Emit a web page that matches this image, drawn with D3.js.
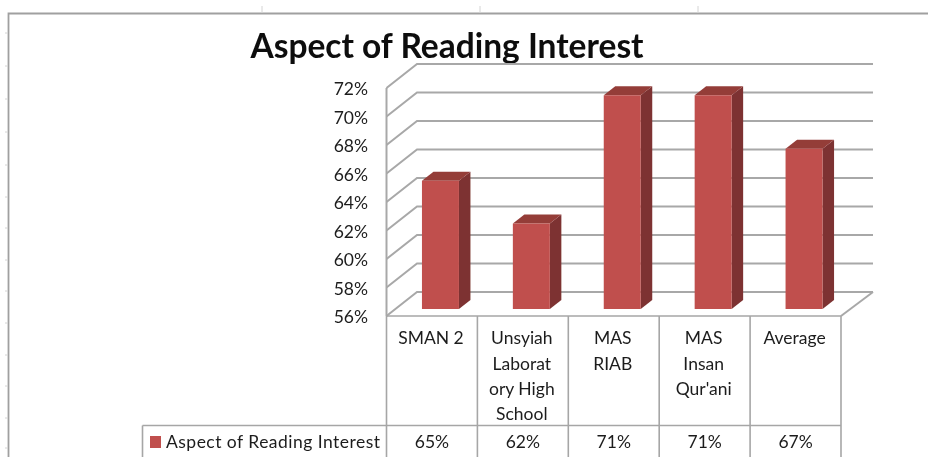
<!DOCTYPE html>
<html>
<head>
<meta charset="utf-8">
<style>html,body{margin:0;padding:0;background:#fff}svg{display:block}text{font-family:Lato,"Noto Sans",sans-serif;fill:#1c1c1c}</style>
<script src="https://cdn.jsdelivr.net/npm/d3@7"></script>
</head>
<body>
<script>
const categories = ["SMAN 2", "Unsyiah Laboratory High School", "MAS RIAB", "MAS Insan Qur'ani", "Average"];
const categoryLines = [["SMAN 2"], ["Unsyiah", "Laborat", "ory High", "School"], ["MAS", "RIAB"], ["MAS", "Insan", "Qur'ani"], ["Average"]];
const seriesName = "Aspect of Reading Interest";
const values = [0.65, 0.62, 0.71, 0.71, 0.6725];
const yTicks = [0.56, 0.58, 0.60, 0.62, 0.64, 0.66, 0.68, 0.70, 0.72];
const title = "Aspect of Reading Interest";

const W = 928, H = 457;
const gridColor = "#a8a8a8", tableColor = "#a6a6a6";
const svg = d3.select("body").append("svg").attr("width", W).attr("height", H);
svg.append("defs").append("filter").attr("id", "soft")
  .attr("x", "-2%").attr("y", "-2%").attr("width", "104%").attr("height", "104%")
  .append("feGaussianBlur").attr("stdDeviation", 0.45);
const root = svg.append("g").attr("filter", "url(#soft)");

const y = d3.scaleLinear().domain([0.56, 0.72]).range([316, 88]);
const x = d3.scaleBand().domain(categories).range([386.5, 841]).paddingInner(0.593).paddingOuter(0.2965);
const cell = d3.scaleBand().domain(categories).range([386.5, 841]);
const fmt = d3.format(".0%");

// sheet frame and ruler marks
const frame = root.append("g").attr("stroke", "#a0a0a0").attr("fill", "none");
frame.append("path").attr("d", "M8.5,457V13.5H928").attr("stroke-width", 1.8);
[262, 480, 698].forEach(v => frame.append("line").attr("x1", v).attr("x2", v).attr("y1", 6).attr("y2", 13).attr("stroke", "#d4d4d4"));
[33, 66, 99, 132, 165, 197, 228, 260, 291, 323, 355, 386, 418, 448].forEach(v => frame.append("line").attr("x1", 5).attr("x2", 8).attr("y1", v).attr("y2", v).attr("stroke", "#d4d4d4"));

root.append("text").attr("x", 447).attr("y", 58).attr("text-anchor", "middle")
  .attr("font-size", 33.5).attr("font-weight", 700).style("fill", "#0b0b0b").text(title);

// 3D walls
const depthX = 30.5, depthY = 24, backEnd = 873;
const grid = root.append("g").attr("fill", "none").attr("stroke", gridColor).attr("stroke-width", 2);
grid.selectAll("path").data(yTicks).join("path")
  .attr("d", t => `M386.5,${y(t)}L${386.5 + depthX},${y(t) - depthY}H${backEnd}`);
grid.append("path").attr("d", `M841,316L${backEnd},${316 - depthY}`);
grid.append("line").attr("x1", 386.5).attr("x2", 386.5).attr("y1", y(0.72)).attr("y2", 316);

root.append("g").selectAll("text").data(yTicks).join("text")
  .attr("x", 368).attr("y", t => y(t) + 1).attr("dy", "0.36em").attr("text-anchor", "end")
  .attr("font-size", 17.5).text(fmt);

// bars
const barDx = 8.5, barDy = 7, sideDx = 11.5, sideDy = 9;
const bars = root.append("g").selectAll("g").data(categories.map((c, i) => ({c, v: values[i]}))).join("g");
bars.append("path").attr("fill", "#7d3230").attr("d", d => {
  const r = x(d.c) + x.bandwidth() + barDx, t = y(d.v) - barDy, b = y(0.56) - barDy;
  return `M${r},${t}l${sideDx},${-sideDy}V${b - sideDy}l${-sideDx},${sideDy}Z`;
});
bars.append("path").attr("fill", "#943c39").attr("d", d => {
  const l = x(d.c) + barDx, t = y(d.v) - barDy;
  return `M${l},${t}l${sideDx},${-sideDy}h${x.bandwidth()}l${-sideDx},${sideDy}Z`;
});
bars.append("rect").attr("fill", "#c0504d")
  .attr("x", d => x(d.c) + barDx).attr("y", d => y(d.v) - barDy)
  .attr("width", x.bandwidth()).attr("height", d => y(0.56) - y(d.v));

// data table
const rowTop = 316, rowMid = 425.5;
const table = root.append("g").attr("stroke", tableColor).attr("stroke-width", 1.6).attr("fill", "none");
table.append("line").attr("x1", 386.5).attr("x2", 841).attr("y1", rowTop).attr("y2", rowTop);
table.append("line").attr("x1", 142.5).attr("x2", 841).attr("y1", rowMid).attr("y2", rowMid);
table.append("line").attr("x1", 142.5).attr("x2", 142.5).attr("y1", rowMid).attr("y2", H);
[...categories.map(c => cell(c)), 841].forEach(v =>
  table.append("line").attr("x1", v).attr("x2", v).attr("y1", rowTop).attr("y2", H));

const head = root.append("g").selectAll("text").data(categories.map((c, i) => ({c, lines: categoryLines[i]}))).join("text")
  .attr("text-anchor", "middle").attr("font-size", 17.5);
head.selectAll("tspan").data(d => d.lines.map((l, i) => ({c: d.c, l, i}))).join("tspan")
  .attr("x", d => cell(d.c) + cell.bandwidth() / 2 - 1)
  .attr("y", d => 338 + d.i * 25.3).attr("dy", "0.36em").text(d => d.l);

root.append("g").selectAll("text").data(categories.map((c, i) => ({c, v: values[i]}))).join("text")
  .attr("x", d => cell(d.c) + cell.bandwidth() / 2).attr("y", 441.5).attr("dy", "0.36em")
  .attr("text-anchor", "middle").attr("font-size", 17.5).text(d => fmt(d.v));

root.append("rect").attr("x", 150).attr("y", 436).attr("width", 11).attr("height", 12).attr("fill", "#c0504d");
root.append("text").attr("x", 166).attr("y", 441.5).attr("dy", "0.36em").attr("font-size", 17.5)
  .attr("textLength", 214).attr("lengthAdjust", "spacing").text(seriesName);
</script>
</body>
</html>
